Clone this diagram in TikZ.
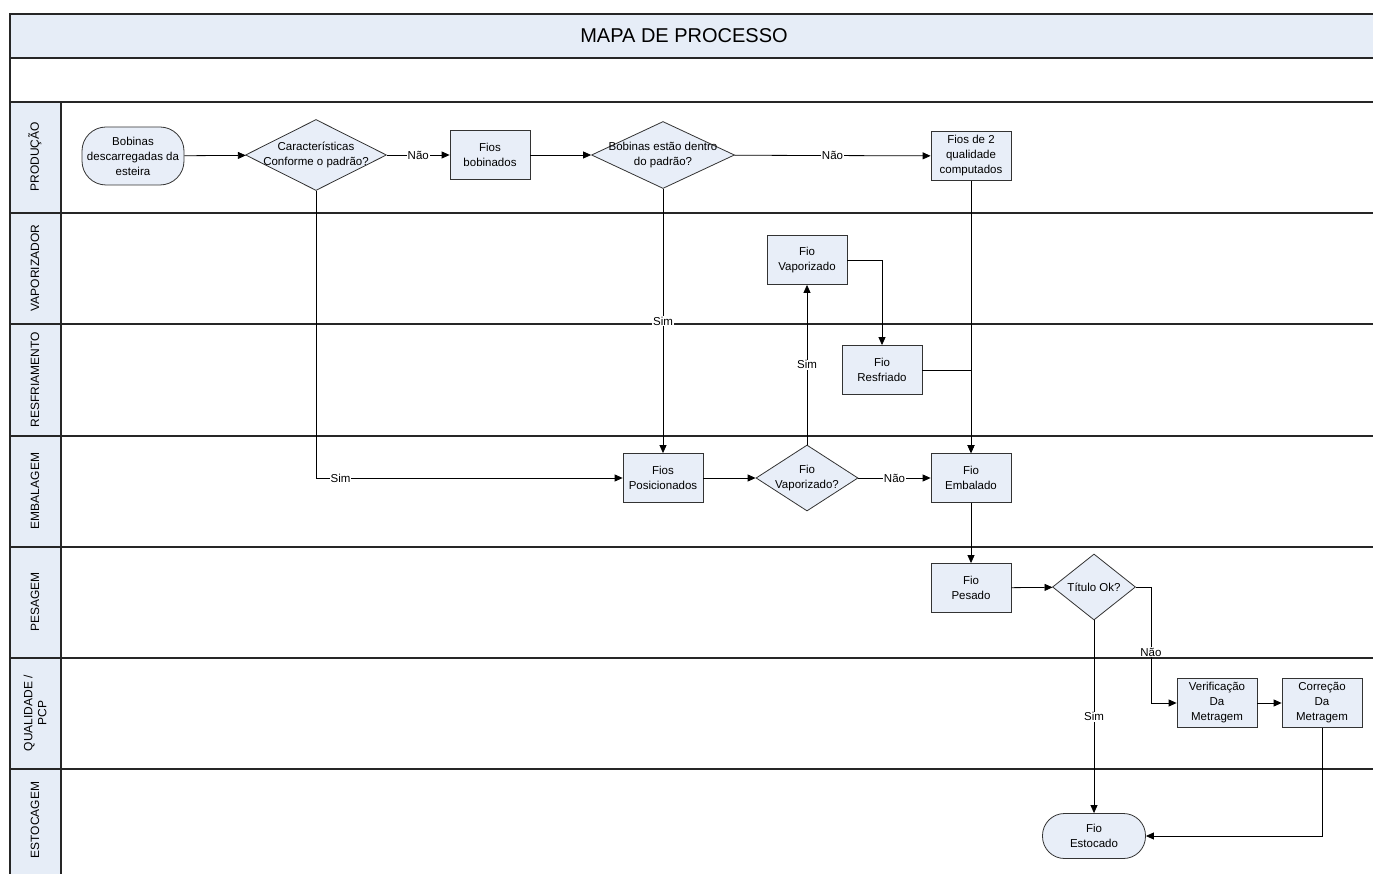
\documentclass[tikz,border=0pt]{standalone}
\usepackage{fontspec}
\setmainfont{Liberation Sans}
\usetikzlibrary{arrows.meta,shapes.geometric}
\definecolor{laneblue}{RGB}{230,237,247}
\definecolor{boxblue}{RGB}{232,238,248}
\begin{document}
\begin{tikzpicture}[x=1pt,y=-1pt,
  font=\fontsize{11.5}{15}\selectfont,
  frame/.style={line width=1.3pt, draw=black!85},
  proc/.style={draw=black!80, line width=0.8pt, fill=boxblue, minimum width=80pt,
    minimum height=49pt, inner sep=0pt, align=center},
  term/.style={proc, rounded corners=24pt},
  dec/.style={diamond, draw=black!80, line width=0.8pt, fill=boxblue, inner sep=0pt},
  dtext/.style={align=center, inner sep=0pt},
  conn/.style={draw=black, line width=0.8pt, -{Triangle[length=8pt,width=7pt]}},
  lbl/.style={fill=white, inner sep=1pt},
  lanetxt/.style={rotate=90, align=center, font=\fontsize{12}{14}\selectfont}
]
% canvas
\fill[white] (0,0) rectangle (1373,874);
\useasboundingbox (0,0) rectangle (1373,874);

% header bands and lane label column
\fill[laneblue] (10,14) rectangle (1373,58);
\fill[laneblue] (10,102) rectangle (61,874);
\node[font=\fontsize{20}{24}\selectfont] (title) at (684,36) {MAPA DE PROCESSO};

% pool frame and lane separators
\draw[frame] (1373,14) -- (10,14) -- (10,874);
\draw[frame] (61,102) -- (61,874);
\foreach \yy in {58,102,213,324,436,547,658,769}
  \draw[frame] (10,\yy) -- (1373,\yy);

% lane names
\node[lanetxt] (l1) at (35,157) {PRODUÇÃO};
\node[lanetxt] (l2) at (35,268) {VAPORIZADOR};
\node[lanetxt] (l3) at (35,380) {RESFRIAMENTO};
\node[lanetxt] (l4) at (35,491) {EMBALAGEM};
\node[lanetxt] (l5) at (35,602) {PESAGEM};
\node[lanetxt] (l6) at (35,713) {QUALIDADE /\\PCP};
\node[lanetxt] (l7) at (35,820) {ESTOCAGEM};

% process steps
\node[term, minimum width=102pt, minimum height=58pt] (bob) at (133,156)
  {Bobinas\\descarregadas da\\esteira};
\node[dec, minimum width=141pt, minimum height=71pt,
  label={[dtext]center:{Características\\Conforme o padrão?}}] (car) at (316,155) {};
\node[proc] (fbob) at (490,155) {Fios\\bobinados};
\node[dec, minimum width=143pt, minimum height=67pt,
  label={[dtext]center:{Bobinas estão dentro\\do padrão?}}] (dent) at (663,155) {};
\node[proc] (f2q) at (971,156) {Fios de 2\\qualidade\\computados};
\node[proc] (fvap) at (807,260) {Fio\\Vaporizado};
\node[proc] (fres) at (882,370) {Fio\\Resfriado};
\node[proc] (fpos) at (663,478) {Fios\\Posicionados};
\node[dec, minimum width=102pt, minimum height=66pt,
  label={[dtext]center:{Fio\\Vaporizado?}}] (vapq) at (807,478) {};
\node[proc] (femb) at (971,478) {Fio\\Embalado};
\node[proc] (fpes) at (971,588) {Fio\\Pesado};
\node[dec, minimum width=83pt, minimum height=66pt,
  label={[dtext]center:{Título Ok?}}] (tit) at (1094,587) {};
\node[proc] (ver) at (1217,703) {Verificação\\Da\\Metragem};
\node[proc] (cor) at (1322,703) {Correção\\Da\\Metragem};
\node[term, rounded corners=22pt, minimum width=103pt, minimum height=45pt] (est) at (1094,836)
  {Fio\\Estocado};

% flow connectors
\draw[conn] (bob) -- (car);
\draw[conn] (car) -- node[lbl] {Não} (fbob);
\draw[conn] (fbob) -- (dent);
\draw[conn] (dent) -- node[lbl] {Não} (f2q);
\draw[conn] (car.south) |- node[lbl, pos=0.54] {Sim} (fpos.west);
\draw[conn] (dent.south) -- node[lbl] {Sim} (fpos.north);
\draw[conn] (fpos) -- (vapq);
\draw[conn] (vapq.north) -- node[lbl] {Sim} (fvap.south);
\draw[conn] (vapq) -- node[lbl] {Não} (femb);
\draw[conn] (fvap.east) -| (fres.north);
\draw[conn] (fres.east) -| (femb.north);
\draw[conn] (f2q.south) -- (femb.north);
\draw[conn] (femb) -- (fpes);
\draw[conn] (fpes) -- (tit);
\draw[conn] (tit.south) -- node[lbl] {Sim} (est.north);
\draw[conn] (tit.east) -- ++(15,0) |- node[lbl, pos=0.28] {Não} (ver.west);
\draw[conn] (ver) -- (cor);
\draw[conn] (cor.south) |- (est.east);
\end{tikzpicture}
\end{document}
